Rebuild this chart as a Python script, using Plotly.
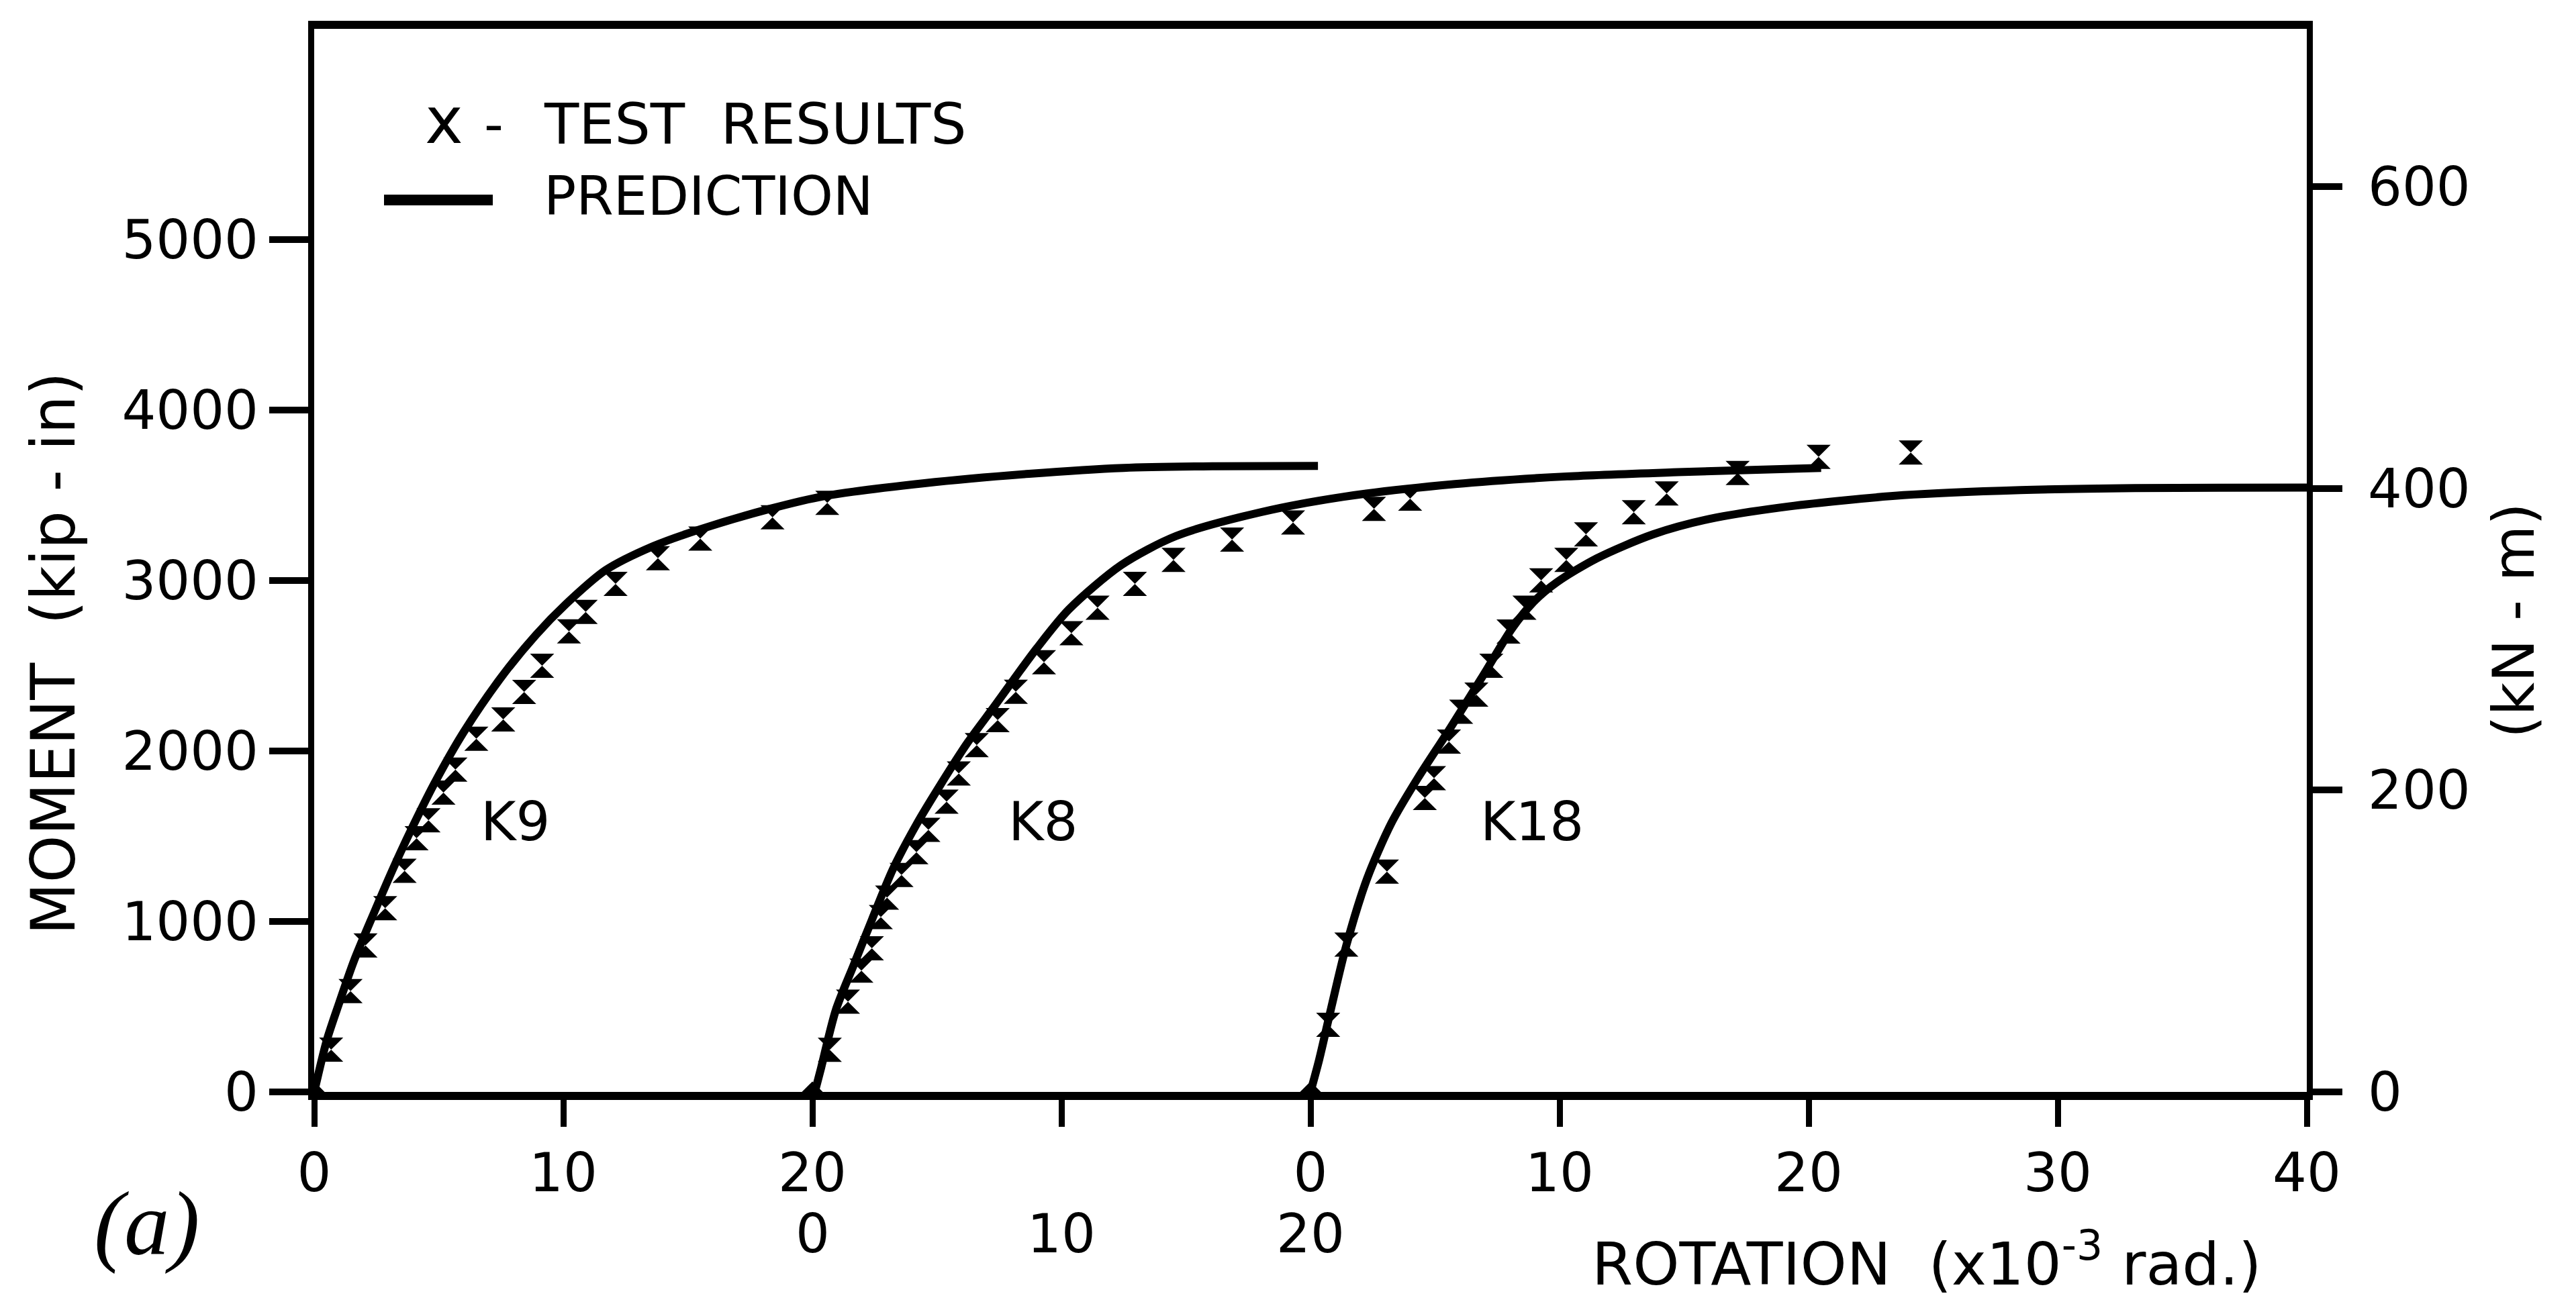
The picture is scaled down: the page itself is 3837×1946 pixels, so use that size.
import plotly.graph_objects as go

# ---------------- data (rotation in 10^-3 rad from each specimen's own origin, moment in kip-in)
specimens = ["K9", "K8", "K18"]
origin_offset = [0, 20, 40]          # where each specimen's zero sits on the shared rotation axis

k9_test_rot = [0.68, 1.46, 2.06, 2.85, 3.63, 4.11, 4.59, 5.19, 5.67, 6.51, 7.59, 8.43, 9.15,
               10.23, 10.9, 12.1, 13.8, 15.5, 18.4, 20.6]
k9_test_mom = [248, 591, 859, 1078, 1297, 1488, 1593, 1756, 1890, 2071, 2185, 2346, 2500,
               2701, 2815, 2980, 3130, 3245, 3370, 3455]
k9_pred_rot = [0, 0.5, 1.0, 1.6, 2.4, 3.2, 4.0, 4.9, 6.0, 7.5, 8.9, 10.1, 11.7, 13.6, 15.5,
               18.3, 20.5, 24.5, 28.7, 32.5, 36.2, 40.3]
k9_pred_mom = [0, 300, 520, 770, 1050, 1320, 1570, 1830, 2110, 2430, 2680, 2860, 3060, 3200,
               3300, 3420, 3495, 3570, 3625, 3660, 3670, 3672]

k8_test_rot = [0.70, 1.43, 1.97, 2.39, 2.75, 3.0, 3.58, 4.18, 4.66, 5.39, 5.88, 6.6, 7.44, 8.17,
               9.3, 10.4, 11.45, 12.95, 14.5, 16.85, 19.3, 22.55, 24.0]
k8_test_mom = [247, 529, 711, 842, 1025, 1140, 1272, 1406, 1537, 1702, 1868, 2034, 2181, 2347,
               2520, 2690, 2840, 2980, 3120, 3240, 3340, 3420, 3480]
k8_pred_rot = [0.1, 0.35, 0.94, 1.66, 2.39, 3.23, 4.19, 5.15, 6.24, 7.32, 8.04, 9.0, 10.3, 12.4,
               14.6, 18.0, 21.3, 25.8, 30.3, 34.75, 40.5]
k8_pred_mom = [0, 140, 479, 744, 1009, 1305, 1571, 1803, 2050, 2264, 2410, 2600, 2830, 3090,
               3260, 3400, 3490, 3565, 3610, 3635, 3660]

k18_test_rot = [0.71, 1.44, 3.07, 4.59, 4.96, 5.56, 6.05, 6.66, 7.26, 7.95, 8.59, 9.26, 10.27,
                11.06, 12.98, 14.3, 17.15, 20.4, 24.1]
k18_test_mom = [394, 864, 1292, 1724, 1840, 2055, 2230, 2330, 2500, 2700, 2840, 3000, 3120,
                3270, 3400, 3510, 3630, 3725, 3750]
k18_pred_rot = [0, 0.35, 0.83, 1.44, 2.28, 3.26, 4.35, 5.55, 6.95, 8.1, 9.0, 9.9, 11.5, 13.75,
                16.0, 19.2, 23.8, 28.5, 33.1, 40.0]
k18_pred_mom = [0, 190, 492, 860, 1254, 1580, 1850, 2120, 2447, 2720, 2880, 2990, 3130, 3270,
                3360, 3434, 3500, 3530, 3542, 3545]

label_rot = [8.06, 9.27, 8.9]        # specimen label positions (rotation from own origin)
label_mom = [1585, 1585, 1585]

x_tickvals = [0, 10, 20, 30, 40, 50, 60, 70, 80]
x_ticktext = ["0", "10", "20", " ", "0", "10", "20", "30", "40"]
x2_tickvals = [20, 30, 40]            # second row (K8 axis)
x2_ticktext = ["0", "10", "20"]
y_tickvals = [0, 1000, 2000, 3000, 4000, 5000]
y2_tickvals = [0, 200, 400, 600]
KIPIN_TO_KNM = 0.11298
Y_MAX = 6235

test_rot = [k9_test_rot, k8_test_rot, k18_test_rot]
test_mom = [k9_test_mom, k8_test_mom, k18_test_mom]
pred_rot = [k9_pred_rot, k8_pred_rot, k18_pred_rot]
pred_mom = [k9_pred_mom, k8_pred_mom, k18_pred_mom]

# ---------------- geometry helpers (pixel -> paper)
W, H = 3837, 1946
PL, PR, PT, PB = 468, 3436, 43, 1627


def px(X):
    return (X - PL) / (PR - PL)


def py(Y):
    return (PB - Y) / (PB - PT)


FONT = "DejaVu Sans"
BLACK = "black"


def f(size, family=FONT):
    return dict(family=family, size=size, color=BLACK)


fig = go.Figure()

for i, name in enumerate(specimens):
    off = origin_offset[i]
    fig.add_trace(go.Scatter(
        x=[r + off for r in pred_rot[i]], y=pred_mom[i], mode="lines",
        line=dict(color=BLACK, width=12, shape="spline", smoothing=0.8),
        showlegend=False, hoverinfo="skip"))
    fig.add_trace(go.Scatter(
        x=[r + off for r in test_rot[i]], y=test_mom[i], mode="markers",
        marker=dict(symbol="hourglass", size=36, color=BLACK, line=dict(width=0)),
        showlegend=False, hoverinfo="skip"))

# origin dots
fig.add_trace(go.Scatter(x=origin_offset, y=[0] * len(origin_offset), mode="markers",
                         marker=dict(symbol="diamond", size=24, color=BLACK),
                         showlegend=False, hoverinfo="skip"))
# right axis (kN-m) carrier
fig.add_trace(go.Scatter(x=[0], y=[0], yaxis="y2", mode="markers", marker=dict(opacity=0),
                         showlegend=False, hoverinfo="skip"))

annotations = []
for i, name in enumerate(specimens):
    annotations.append(dict(x=label_rot[i] + origin_offset[i], y=label_mom[i], xref="x", yref="y",
                            text=name, showarrow=False, xanchor="center", yanchor="middle",
                            font=f(80)))

for v, t in zip(x2_tickvals, x2_ticktext):
    annotations.append(dict(x=v, y=py(1838), xref="x", yref="paper", text=t, showarrow=False,
                            xanchor="center", yanchor="middle", font=f(80)))


def pa(X, Y, text, size, xanchor="center", textangle=0, family=FONT):
    return dict(x=px(X), y=py(Y), xref="paper", yref="paper", text=text, showarrow=False,
                xanchor=xanchor, yanchor="middle", textangle=textangle, font=f(size, family))


annotations += [
    # legend drawn as text
    pa(661, 180, "x", 96),
    pa(735, 185, "-", 80),
    pa(808, 185, "TEST  RESULTS", 84, xanchor="left"),
    pa(808, 292, "PREDICTION", 80, xanchor="left"),
    # axis titles
    pa(79, 974, "MOMENT  (kip - in)", 90, textangle=-90),
    pa(3744, 925, "(kN - m)", 86, textangle=-90),
    pa(2870, 1877, "ROTATION  (x10<sup>-3</sup> rad.)", 88),
    pa(218, 1823, "<i>(a)</i>", 135, family="Liberation Serif"),
]

shapes = [dict(type="line", xref="paper", yref="paper", x0=px(572), x1=px(734),
               y0=py(298), y1=py(298), line=dict(color=BLACK, width=16))]

fig.update_layout(
    width=W, height=H,
    margin=dict(l=PL, r=W - PR, t=PT, b=H - PB),
    paper_bgcolor="white", plot_bgcolor="white",
    showlegend=False,
    annotations=annotations, shapes=shapes,
    xaxis=dict(range=[0, 80], showline=True, linewidth=12, linecolor=BLACK, mirror=True,
               ticks="outside", ticklen=40, tickwidth=9, tickcolor=BLACK,
               tickvals=x_tickvals, ticktext=x_ticktext, showgrid=False, zeroline=False,
               tickfont=f(80)),
    yaxis=dict(range=[0, Y_MAX], showline=True, linewidth=9, linecolor=BLACK, mirror=True,
               ticks="outside", ticklen=58, tickwidth=10, tickcolor=BLACK,
               tickvals=y_tickvals, showgrid=False, zeroline=False,
               tickfont=f(80)),
    yaxis2=dict(range=[0, Y_MAX * KIPIN_TO_KNM], overlaying="y", side="right", showline=False,
                ticks="outside", ticklen=52, tickwidth=10, tickcolor=BLACK,
                tickvals=y2_tickvals, showgrid=False, zeroline=False,
                ticklabelstandoff=22, tickfont=f(80)),
)

fig.write_html("out.html")
